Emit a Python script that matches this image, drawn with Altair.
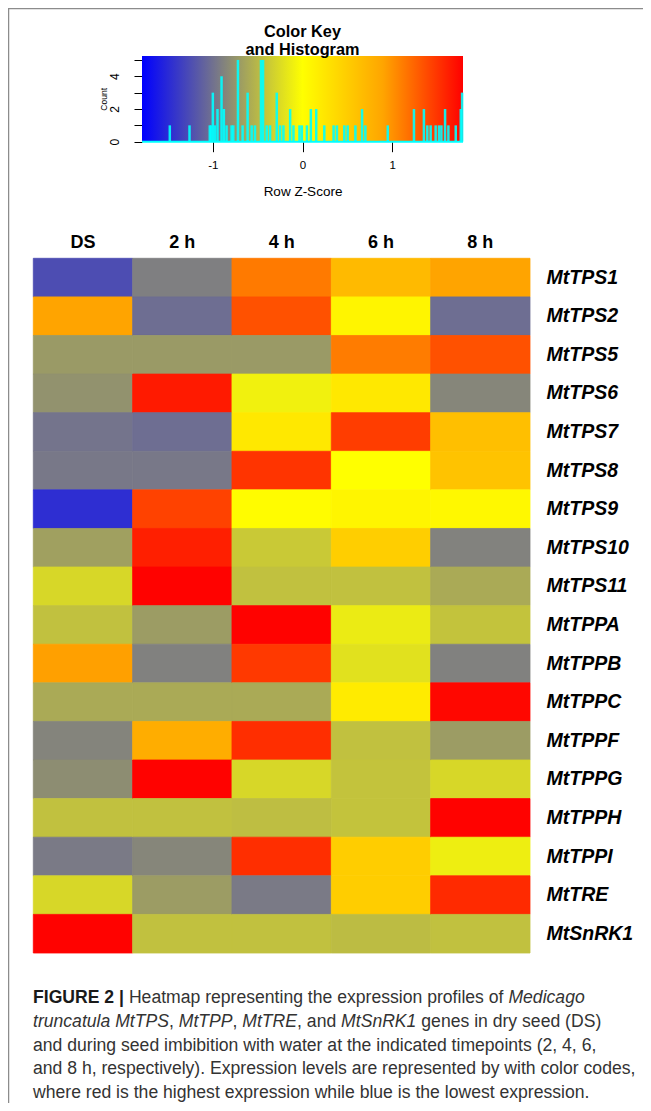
import altair as alt
import pandas as pd

# ---------------- data ----------------
genes = ["MtTPS1", "MtTPS2", "MtTPS5", "MtTPS6", "MtTPS7", "MtTPS8", "MtTPS9",
         "MtTPS10", "MtTPS11", "MtTPPA", "MtTPPB", "MtTPPC", "MtTPPF", "MtTPPG",
         "MtTPPH", "MtTPPI", "MtTRE", "MtSnRK1"]
timepoints = ["DS", "2 h", "4 h", "6 h", "8 h"]

z_DS = [-1.25, 0.90, -0.71, -0.77, -0.98, -0.95, -1.47, -0.67, -0.28, -0.44,
        0.92, -0.60, -0.87, -0.80, -0.44, -0.94, -0.28, 1.78]
z_2h = [-0.90, -1.02, -0.71, 1.65, -1.02, -0.95, 1.43, 1.62, 1.78, -0.70,
        -0.89, -0.60, 0.82, 1.78, -0.44, -0.85, -0.70, -0.44]
z_4h = [1.13, 1.35, -0.71, -0.10, 0.23, 1.51, 0.03, -0.38, -0.44, 1.78,
        1.48, -0.60, 1.54, -0.28, -0.46, 1.54, -0.94, -0.44]
z_6h = [0.69, 0.10, 1.12, 0.23, 1.46, 0.00, 0.10, 0.49, -0.44, -0.14,
        -0.21, 0.20, -0.44, -0.42, -0.42, 0.50, 0.50, -0.47]
z_8h = [0.90, -1.02, 1.35, -0.85, 0.64, 0.60, 0.07, -0.88, -0.60, -0.42,
        -0.89, 1.75, -0.70, -0.28, 1.78, -0.12, 1.56, -0.44]

hist_z = [-1.48, -1.26, -1.034, -1.019, -1.00, -0.978, -0.948, -0.903, -0.877,
          -0.847, -0.791, -0.772, -0.72, -0.668, -0.612, -0.567, -0.53, -0.463,
          -0.44, -0.399, -0.362, -0.287, -0.25, -0.213, -0.138, -0.101, -0.034,
          -0.007, 0.049, 0.093, 0.153, 0.243, 0.347, 0.384, 0.466, 0.504, 0.59,
          0.664, 0.701, 0.951, 1.243, 1.354, 1.392, 1.429, 1.485, 1.522, 1.549,
          1.59, 1.627, 1.709, 1.765, 1.78]
hist_count = [1, 1, 1, 1, 3, 1, 2, 4, 2, 1, 1, 1, 5, 1, 3, 1, 1, 5, 5, 1, 1, 3,
              1, 1, 2, 1, 1, 1, 1, 2, 2, 1, 1, 1, 1, 1, 1, 2, 1, 1, 2, 2, 1, 1,
              1, 1, 1, 2, 1, 1, 2, 3]

key_ticks = [-1, 0, 1]
count_ticks = [0, 1, 2, 3, 4, 5]
KEY_MIN, KEY_MAX = -1.79, 1.79
COUNT_TOP = 5.24
palette_z = [-1.79, -0.895, 0.0, 0.895, 1.79]
palette = ["#0000FF", "#808080", "#FFFF00", "#FFA500", "#FF0000"]

caption_lines = [
    [("FIGURE 2 |", "bold"), ("Heatmap representing the expression profiles of", "normal"),
     ("Medicago", "italic")],
    [("truncatula MtTPS", "italic"), (",", "normal"), ("MtTPP", "italic"), (",", "normal"),
     ("MtTRE", "italic"), (", and", "normal"), ("MtSnRK1", "italic"),
     ("genes in dry seed (DS)", "normal")],
    [("and during seed imbibition with water at the indicated timepoints (2, 4, 6,", "normal")],
    [("and 8 h, respectively). Expression levels are represented by with color codes,", "normal")],
    [("where red is the highest expression while blue is the lowest expression.", "normal")],
]

# ---------------- layout ----------------
W, H = 635, 1095
FONT = "Liberation Sans"
CYAN = "#00FFFF"

one = pd.DataFrame({"k": [0]})

heat_df = pd.DataFrame({
    "gene": genes * 5,
    "time": sum([[t] * len(genes) for t in timepoints], []),
    "z": z_DS + z_2h + z_4h + z_6h + z_8h,
})
hist_df = pd.DataFrame({"z": hist_z, "count": hist_count})

# ---------- color key ----------
kx = alt.Scale(domain=[KEY_MIN, KEY_MAX], range=[134, 455], nice=False, zero=False)
ky = alt.Scale(domain=[0, COUNT_TOP], range=[133.7, 48], nice=False, zero=False)
kx_axis = alt.Axis(orient="bottom", offset=133.7 - H, values=key_ticks, domain=False,
                   grid=False, tickSize=10, tickColor="black", tickWidth=1,
                   labelExpr="replace(datum.label, '\u2212', '-')",
                   labelFont=FONT, labelFontSize=11.5, labelColor="black",
                   labelPadding=8, labelFlush=False, labelOverlap=False,
                   title="Row Z-Score", titleFont=FONT, titleFontSize=13.5,
                   titleFontWeight="normal", titleColor="black", titleY=53.3,
                   titleBaseline="alphabetic")
ky_axis = alt.Axis(orient="left", offset=-134, values=count_ticks,
                   labelExpr="datum.value % 2 == 0 ? datum.label : ''",
                   domain=False, grid=False, tickSize=8, tickColor="black",
                   labelAngle=270, labelFont=FONT, labelFontSize=12,
                   labelColor="black", labelPadding=13, labelFlush=False,
                   labelOverlap=False, title="Count", titleFont=FONT,
                   titleFontSize=8.5, titleFontWeight="normal", titleColor="black",
                   titleAngle=270, titleX=-35.5, titleBaseline="alphabetic")

stops = [alt.GradientStop(color=c, offset=(z - KEY_MIN) / (KEY_MAX - KEY_MIN))
         for c, z in zip(palette, palette_z)]
grad = alt.Chart(one).mark_rect(
    fill=alt.Gradient(gradient="linear", stops=stops, x1=0, x2=1, y1=0, y2=0)
).encode(
    x=alt.X(datum=KEY_MIN, type="quantitative", scale=kx, axis=kx_axis),
    x2=alt.X2(datum=KEY_MAX),
    y=alt.Y(datum=0, type="quantitative", scale=ky, axis=ky_axis),
    y2=alt.Y2(datum=COUNT_TOP),
)
hbase = alt.Chart(one).mark_rule(color=CYAN, strokeWidth=2).encode(
    x=alt.X(datum=KEY_MIN, type="quantitative", scale=kx, axis=kx_axis),
    x2=alt.X2(datum=KEY_MAX),
    y=alt.Y(datum=0, type="quantitative", scale=ky, axis=ky_axis),
)
hbars = alt.Chart(hist_df).mark_rule(color=CYAN, strokeWidth=2.5, opacity=0.9).encode(
    x=alt.X("z:Q", scale=kx, axis=kx_axis),
    y=alt.Y("count:Q", scale=ky, axis=ky_axis),
    y2=alt.Y2(datum=0),
)
key = alt.layer(grad, hbase, hbars)

key_title = [
    alt.Chart(one).mark_text(text=t, font=FONT, fontSize=16.3, fontWeight="bold",
                             align="center", baseline="alphabetic", color="black"
                             ).encode(x=alt.value(294.5), y=alt.value(y))
    for t, y in [("Color Key", 28.7), ("and Histogram", 47)]
]

# ---------- heatmap ----------
hx = alt.Scale(domain=timepoints, range=[25.3, 522], paddingInner=0, paddingOuter=0)
hy = alt.Scale(domain=genes, range=[250.3, 945], paddingInner=0, paddingOuter=0)
heat_color = alt.Scale(domain=palette_z, range=palette, interpolate="rgb")
heat = alt.Chart(heat_df).mark_rect(strokeWidth=0.8).encode(
    x=alt.X("time:N", scale=hx, sort=timepoints,
            axis=alt.Axis(orient="top", offset=-250.3, domain=False, ticks=False,
                          tickSize=0, labelFont=FONT, labelFontSize=18,
                          labelFontWeight="bold", labelColor="black", labelPadding=11,
                          labelBaseline="alphabetic", labelAngle=0, title=None)),
    y=alt.Y("gene:N", scale=hy, sort=genes,
            axis=alt.Axis(orient="right", offset=522 - W, domain=False, ticks=False,
                          tickSize=0, labelFont=FONT, labelFontSize=19.5,
                          labelFontWeight="bold", labelFontStyle="italic",
                          labelColor="black", labelPadding=16, labelAlign="left",
                          labelLimit=200, title=None)),
    color=alt.Color("z:Q", scale=heat_color, legend=None),
    stroke=alt.Stroke("z:Q", scale=heat_color, legend=None),
)

# ---------- frame ----------
frame = [
    alt.Chart(one).mark_rule(color="#8c8c8c", strokeWidth=1.5).encode(
        x=alt.value(0), x2=alt.value(W), y=alt.value(0.5)),
    alt.Chart(one).mark_rule(color="#8c8c8c", strokeWidth=1.5).encode(
        x=alt.value(0.5), y=alt.value(0), y2=alt.value(H)),
]

# ---------- caption (text layout with Arial/Liberation metrics) ----------
REG = {' ': 278, ',': 278, '.': 278, '(': 333, ')': 333, '|': 260, '-': 333}
REG.update({d: 556 for d in "0123456789"})
REG.update(dict(zip("ABCDEFGHIJKLMNOPQRSTUVWXYZ",
                    [667, 667, 722, 722, 667, 611, 778, 722, 278, 500, 667, 556, 833,
                     722, 778, 667, 778, 722, 667, 611, 722, 667, 944, 667, 667, 611])))
REG.update(dict(zip("abcdefghijklmnopqrstuvwxyz",
                    [556, 556, 500, 556, 556, 278, 556, 556, 222, 222, 500, 222, 833,
                     556, 556, 556, 556, 333, 500, 278, 556, 500, 722, 500, 500, 500])))
BOLD = dict(REG)
BOLD.update({'F': 611, 'I': 278, 'G': 778, 'U': 722, 'R': 722, 'E': 667, '|': 280})

CAP_SIZE = 17.6
CAP_X0 = 25
CAP_Y0 = 995
CAP_DY = 23.8


def text_width(s, table):
    return sum(table.get(ch, 556) for ch in s) * CAP_SIZE / 1000.0


caption = []
for i, line in enumerate(caption_lines):
    xpos = CAP_X0
    ypos = CAP_Y0 + i * CAP_DY
    for j, (seg, style) in enumerate(line):
        if j > 0 and not seg.startswith(","):
            xpos += text_width(" ", REG)
        table = BOLD if style == "bold" else REG
        caption.append(
            alt.Chart(one).mark_text(
                text=seg, font=FONT, fontSize=CAP_SIZE, align="left",
                baseline="alphabetic",
                fontWeight="bold" if style == "bold" else "normal",
                fontStyle="italic" if style == "italic" else "normal",
                color="#1a1a1a" if style == "bold" else "#333333",
            ).encode(x=alt.value(xpos), y=alt.value(ypos))
        )
        xpos += text_width(seg, table)

chart = alt.layer(*frame, key, *key_title, heat, *caption).resolve_scale(
    x="independent", y="independent", color="independent", stroke="independent"
).properties(
    width=W, height=H, padding=0,
    autosize=alt.AutoSizeParams(type="none"),
).configure_view(stroke=None).configure(background="white")

chart.save("out.html", embed_options={"renderer": "svg", "actions": False})
